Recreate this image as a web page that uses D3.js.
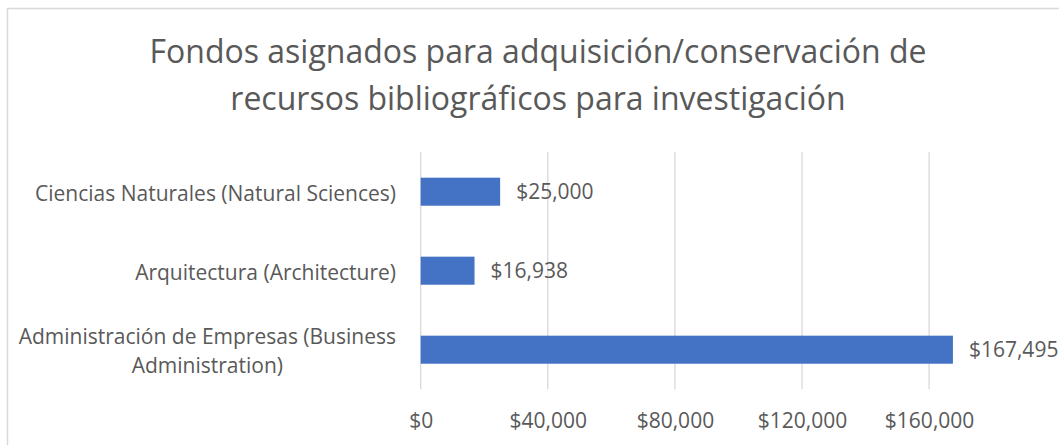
<!DOCTYPE html>
<html>
<head>
<meta charset="utf-8">
<script src="https://cdn.jsdelivr.net/npm/d3@7"></script>
<style>
    body { margin: 0; background: #fff; }
    svg { display: block; font-family: "Open Sans", Lato, sans-serif; }
</style>
</head>
<body>
<svg width="1059" height="445"></svg>
<script>
// chart data
const titleLines = ["Fondos asignados para adquisición/conservación de", "recursos bibliográficos para investigación"];
const categories = [
    "Ciencias Naturales (Natural Sciences)",
    "Arquitectura (Architecture)",
    "Administración de Empresas (Business Administration)"
];
const values = [25000, 16938, 167495];
const xTicks = [0, 40000, 80000, 120000, 160000];

const textColor = "#595959";
const gridColor = "#d9d9d9";
const barColor = "#4472c4";

const svg = d3.select("svg");

// chart frame (cropped on the right and bottom)
svg.append("rect")
    .attr("x", 7.5)
    .attr("y", 8.5)
    .attr("width", 1200)
    .attr("height", 600)
    .attr("fill", "#fff")
    .attr("stroke", gridColor)
    .attr("stroke-width", 1.5);

// title
svg.append("text")
    .attr("x", 538)
    .attr("y", 63)
    .attr("text-anchor", "middle")
    .attr("fill", textColor)
    .style("font-size", "32px")
    .selectAll("tspan")
    .data(titleLines)
    .join("tspan")
    .attr("x", 538)
    .attr("dy", (d, i) => i === 0 ? 0 : 47)
    .text(d => d);

const plot = { left: 420.7, top: 152.2, bottom: 389.2 };

const x = d3.scaleLinear()
    .domain([0, 180000])
    .range([plot.left, plot.left + 4.5 * 127.1]);

const y = d3.scaleBand()
    .domain(categories)
    .range([plot.top, plot.bottom])
    .paddingInner(0.645)
    .paddingOuter(0.3225);

const fmt = d => "$" + d3.format(",")(d);

// vertical gridlines
svg.append("g")
    .selectAll("line")
    .data(xTicks)
    .join("line")
    .attr("x1", d => x(d))
    .attr("x2", d => x(d))
    .attr("y1", plot.top)
    .attr("y2", plot.bottom)
    .attr("stroke", gridColor)
    .attr("stroke-width", 1.3);

// x axis labels
const xAxis = svg.append("g")
    .attr("transform", `translate(0,${plot.bottom})`)
    .call(d3.axisBottom(x).tickValues(xTicks).tickFormat(fmt).tickSize(0).tickPadding(0));
xAxis.select(".domain").remove();
xAxis.selectAll("text")
    .attr("y", 38.5)
    .attr("dy", 0)
    .attr("fill", textColor)
    .style("font-size", "21px")
    .style("font-family", "'Open Sans', sans-serif");

// bars
svg.append("g")
    .selectAll("rect")
    .data(values)
    .join("rect")
    .attr("x", x(0))
    .attr("y", (d, i) => y(categories[i]))
    .attr("width", d => x(d) - x(0))
    .attr("height", y.bandwidth())
    .attr("fill", barColor);

// value labels
svg.append("g")
    .selectAll("text")
    .data(values)
    .join("text")
    .attr("x", d => x(d) + 16)
    .attr("y", (d, i) => y(categories[i]) + y.bandwidth() / 2)
    .attr("dy", "0.36em")
    .attr("fill", textColor)
    .style("font-size", "21px")
    .text(fmt);

// category labels, wrapped and centered on their own block, block right aligned
const labelRight = 396;
const maxLabelWidth = 390;
const lineGap = 29;

const catLabels = svg.append("g")
    .selectAll("text")
    .data(categories)
    .join("text")
    .attr("text-anchor", "middle")
    .attr("fill", textColor)
    .style("font-size", "21px");

catLabels.each(function (label) {
    const t = d3.select(this);
    const words = label.split(" ");
    const lines = [];
    let line = [];
    const probe = t.append("tspan");
    words.forEach(w => {
        line.push(w);
        probe.text(line.join(" "));
        if (probe.node().getComputedTextLength() > maxLabelWidth && line.length > 1) {
            line.pop();
            lines.push(line.join(" "));
            line = [w];
        }
    });
    lines.push(line.join(" "));

    let widest = 0;
    lines.forEach(l => {
        probe.text(l);
        widest = Math.max(widest, probe.node().getComputedTextLength());
    });
    probe.remove();

    const cx = labelRight - widest / 2;
    const cy = y(label) + y.bandwidth() / 2 + 1.5;
    const firstY = cy - (lines.length - 1) * lineGap / 2;

    t.selectAll("tspan")
        .data(lines)
        .join("tspan")
        .attr("x", cx)
        .attr("y", (d, i) => firstY + i * lineGap)
        .attr("dy", "0.36em")
        .text(d => d);
});
</script>
</body>
</html>
